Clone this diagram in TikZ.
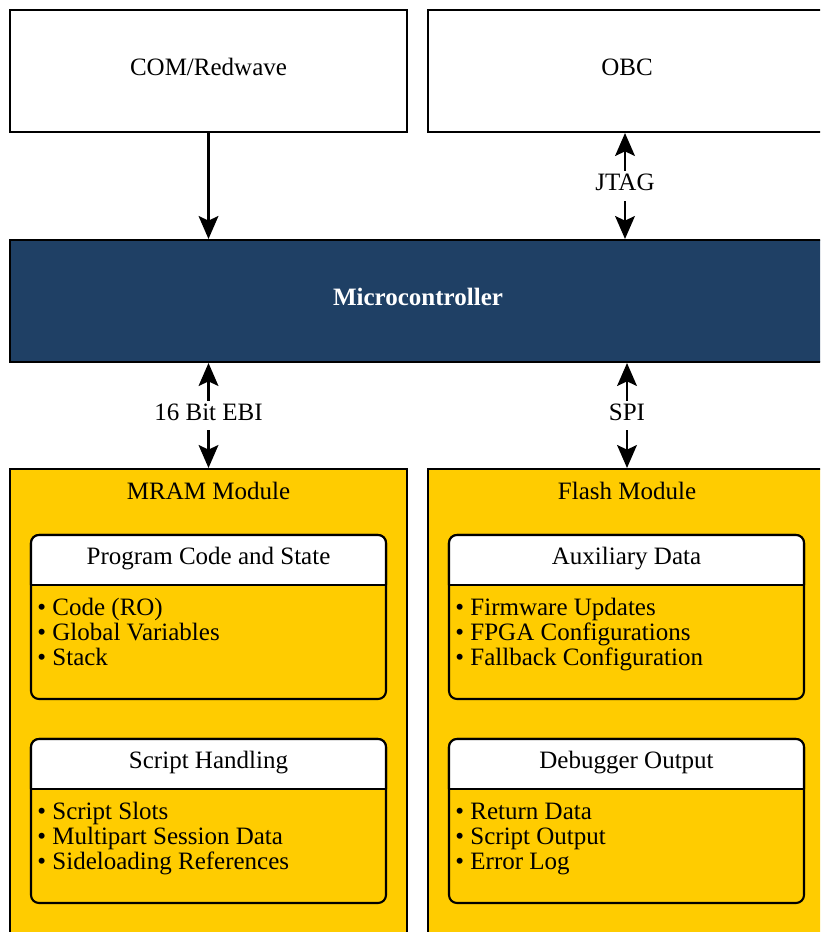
\documentclass[tikz,border=0pt]{standalone}
\usepackage{fontspec}
\setmainfont{Liberation Serif}
\usetikzlibrary{positioning,calc,arrows.meta}
\definecolor{mcublue}{RGB}{31,64,101}
\definecolor{modgold}{RGB}{255,204,0}
\newcommand{\pxu}{0.48pt}

\tikzset{
  block/.style={draw, line width=1pt, fill=white, minimum height=122*\pxu, text height=0.7em, text depth=0.25em},
  mcu/.style={block, fill=mcublue, text=white, font=\fontsize{12}{12}\selectfont\bfseries},
  module/.style={draw, line width=1pt, fill=modgold, minimum height=480*\pxu},
  modtitle/.style={inner sep=0pt, text height=0.7em, text depth=0.25em},
  memarea/.style={draw, line width=1pt, fill=modgold, rounded corners=8*\pxu, outer sep=0pt, minimum width=355*\pxu, minimum height=164*\pxu},
  memhead/.style={inner sep=0pt, text height=0.7em, text depth=0.25em},
  memlist/.style={align=left, inner sep=0pt, anchor=base west},
  tip/.tip={Stealth[length=11pt, width=9.5pt, inset=2.2pt]},
  link/.style={line width=1pt, -tip},
  bus/.style={line width=1pt, tip-tip},
  buslabel/.style={fill=white, inner sep=5*\pxu, text height=0.7em, text depth=0.25em}
}

\begin{document}
\begin{tikzpicture}[x=0.48pt, y=-0.48pt, font=\fontsize{12}{12}\selectfont]
    \useasboundingbox (0,0) rectangle (820,932);
    \clip (0,0) rectangle (820,932);

    % Top level blocks
    \node[block, minimum width=397*\pxu] (com) at (208.5,71) {COM/Redwave};
    \node[block, minimum width=398*\pxu] (obc) at (627,71) {OBC};
    \node[mcu, minimum width=816*\pxu] (mcu) at (418,301) {Microcontroller};

    % Memory modules
    \node[module, minimum width=397*\pxu] (mram) at (208.5,709) {};
    \node[module, minimum width=398*\pxu] (flash) at (627,709) {};
    \node[modtitle, below=8pt of mram.north] (mramt) {MRAM Module};
    \node[modtitle, below=8pt of flash.north] (flasht) {Flash Module};

    % Connections
    \draw[link] (com.south) -- (com.south |- mcu.north);
    \draw[bus] ([xshift=-2*\pxu]obc.south) -- node[buslabel] (jtag) {JTAG} ([xshift=-2*\pxu]obc.south |- mcu.north);
    \draw[bus] (mcu.south -| mram.north) -- node[buslabel] (ebi) {16 Bit EBI} (mram.north);
    \draw[bus] (mcu.south -| flash.north) -- node[buslabel] (spi) {SPI} (flash.north);

    % Memory areas
    \node[memarea] (pcs) at (208.5,617) {};
    \node[memarea] (scr) at (208.5,821) {};
    \node[memarea] (aux) at (626.5,617) {};
    \node[memarea] (dbg) at (626.5,821) {};

    % White headers
    \foreach \b in {pcs,scr,aux,dbg} {
        \filldraw[line width=1pt, fill=white, rounded corners=8*\pxu]
            ($(\b.north west)+(0,50)$) |- (\b.north east) -- ($(\b.north east)+(0,50)$);
        \draw[line width=1pt] ($(\b.north west)+(0,50)$) -- ($(\b.north east)+(0,50)$);
    }

    % Area titles and contents
    \node[memhead] (pcsh) at ($(pcs.north)+(0,25)$) {Program Code and State};
    \node[memlist] (pcsl) at ($(pcs.north west)+(6,130)$) {\textbullet{} Code (RO)\\\textbullet{} Global Variables\\\textbullet{} Stack};
    \node[memhead] (scrh) at ($(scr.north)+(0,25)$) {Script Handling};
    \node[memlist] (scrl) at ($(scr.north west)+(6,130)$) {\textbullet{} Script Slots\\\textbullet{} Multipart Session Data\\\textbullet{} Sideloading References};
    \node[memhead] (auxh) at ($(aux.north)+(0,25)$) {Auxiliary Data};
    \node[memlist] (auxl) at ($(aux.north west)+(6,130)$) {\textbullet{} Firmware Updates\\\textbullet{} FPGA Configurations\\\textbullet{} Fallback Configuration};
    \node[memhead] (dbgh) at ($(dbg.north)+(0,25)$) {Debugger Output};
    \node[memlist] (dbgl) at ($(dbg.north west)+(6,130)$) {\textbullet{} Return Data\\\textbullet{} Script Output\\\textbullet{} Error Log};

\end{tikzpicture}
\end{document}
